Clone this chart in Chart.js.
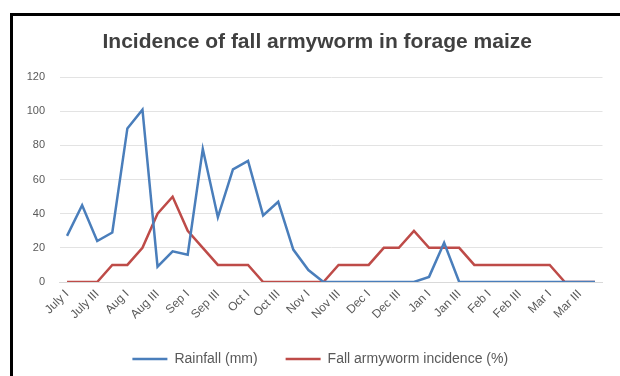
<!DOCTYPE html>
<html lang="en">
<head>
<meta charset="UTF-8">
<title>Incidence of fall armyworm in forage maize</title>
<script src="https://cdn.jsdelivr.net/npm/chart.js"></script>
<style>
    html, body { margin: 0; padding: 0; background: #fff; }
    .chart-container { position: relative; width: 620px; height: 376px; }
</style>
</head>
<body>
<div class="chart-container">
    <canvas id="lineChart"></canvas>
</div>
<script>
// weekly periods, July I .. Mar IV
const periods = [
    'July I', 'July II', 'July III', 'July IV',
    'Aug I', 'Aug II', 'Aug III', 'Aug IV',
    'Sep I', 'Sep II', 'Sep III', 'Sep IV',
    'Oct I', 'Oct II', 'Oct III', 'Oct IV',
    'Nov I', 'Nov II', 'Nov III', 'Nov IV',
    'Dec I', 'Dec II', 'Dec III', 'Dec IV',
    'Jan I', 'Jan II', 'Jan III', 'Jan IV',
    'Feb I', 'Feb II', 'Feb III', 'Feb IV',
    'Mar I', 'Mar II', 'Mar III', 'Mar IV'
];
const rainfall = [27, 45, 24, 29, 90, 101, 9, 18, 16, 78, 38, 66, 71, 39, 47, 19, 7, 0,
                  0, 0, 0, 0, 0, 0, 3, 23, 0, 0, 0, 0, 0, 0, 0, 0, 0, 0];
const incidence = [0, 0, 0, 10, 10, 20, 40, 50, 30, 20, 10, 10, 10, 0, 0, 0, 0, 0,
                   10, 10, 10, 20, 20, 30, 20, 20, 20, 10, 10, 10, 10, 10, 10, 0, 0, 0];
const yMin = 0, yMax = 120, yStep = 20;

const FONT = "'Liberation Sans', Arial, sans-serif";

// black frame on the left and top edge of the picture
const frame = {
    id: 'frame',
    afterLayout(chart) {
        // title and legend in the original sit a bit right of the canvas centre
        chart.titleBlock.left += 9;
        chart.titleBlock.right += 9;
        chart.legend.left += 12;
        chart.legend.right += 12;
    },
    afterDraw(chart) {
        const c = chart.ctx;
        c.save();
        c.fillStyle = '#000';
        c.fillRect(10, 13, 3, chart.height - 13);
        c.fillRect(10, 13, chart.width - 10, 3);
        c.restore();
    }
};

new Chart(document.getElementById('lineChart'), {
    type: 'line',
    data: {
        labels: periods,
        datasets: [{
            label: 'Rainfall (mm)',
            data: rainfall,
            borderColor: '#4A7EBB',
            backgroundColor: '#4A7EBB',
            borderWidth: 2.5,
            pointRadius: 0,
            tension: 0
        }, {
            label: 'Fall armyworm incidence (%)',
            data: incidence,
            borderColor: '#BE4B48',
            backgroundColor: '#BE4B48',
            borderWidth: 2.5,
            pointRadius: 0,
            tension: 0
        }]
    },
    options: {
        responsive: true,
        maintainAspectRatio: false,
        animation: false,
        layout: { padding: { left: 14, right: 17.5, top: 0, bottom: 0 } },
        plugins: {
            title: {
                display: true,
                text: 'Incidence of fall armyworm in forage maize',
                color: '#404040',
                font: { family: FONT, size: 21, weight: 'bold' },
                padding: { top: 30, bottom: 22 }
            },
            legend: {
                position: 'bottom',
                labels: {
                    usePointStyle: true,
                    pointStyle: 'line',
                    pointStyleWidth: 35,
                    color: '#595959',
                    font: { family: FONT, size: 14 },
                    padding: 28
                }
            },
            tooltip: { enabled: false }
        },
        scales: {
            x: {
                offset: true,
                grid: { display: false, drawTicks: false },
                border: { color: '#d9d9d9' },
                ticks: {
                    autoSkip: false,
                    maxRotation: 45,
                    minRotation: 45,
                    padding: 5,
                    color: '#595959',
                    font: { family: FONT, size: 12 },
                    callback: function (val, idx) {
                        return idx % 2 === 0 ? this.getLabelForValue(val) : '';
                    }
                },
                afterFit: function (scale) { scale.height = 42; }
            },
            y: {
                min: yMin,
                max: yMax,
                grid: { color: '#e3e3e3', drawTicks: false },
                border: { display: false },
                ticks: {
                    stepSize: yStep,
                    padding: 14.5,
                    color: '#595959',
                    font: { family: FONT, size: 11 }
                },
                afterFit: function (scale) { scale.width = 45.5; }
            }
        }
    },
    plugins: [frame]
});
</script>
</body>
</html>
